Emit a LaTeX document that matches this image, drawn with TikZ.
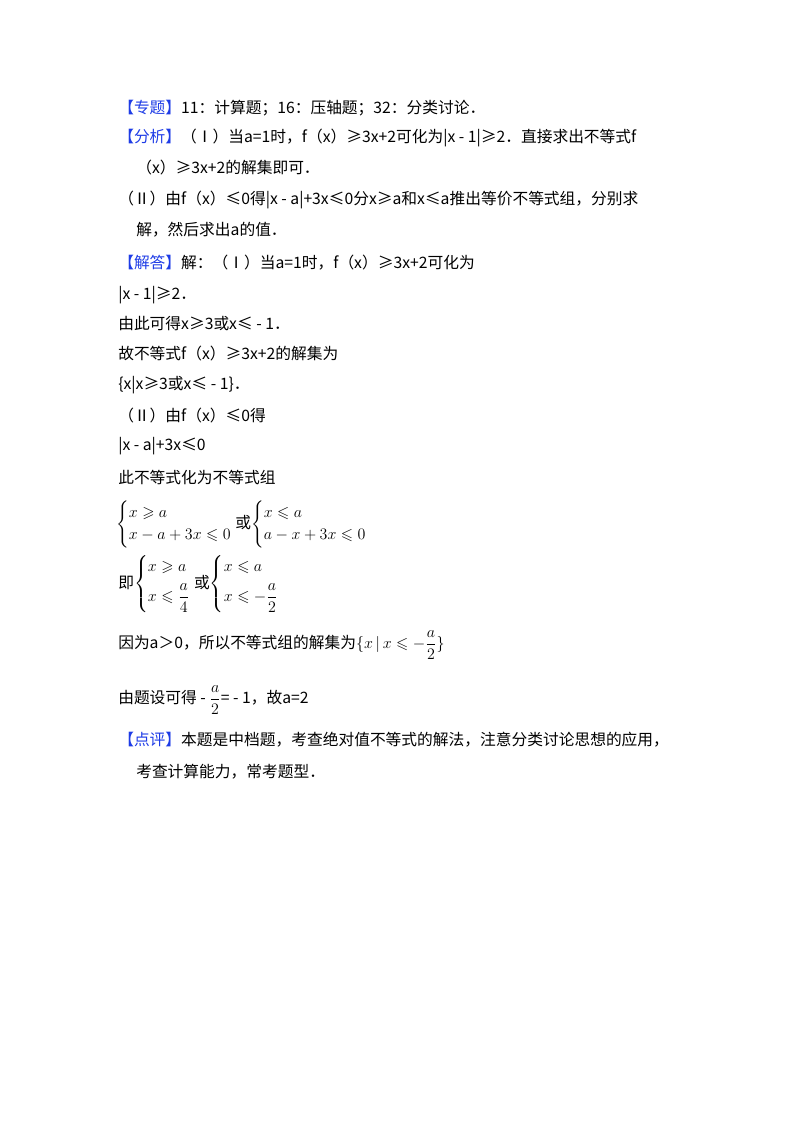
\documentclass[tikz,border=0pt]{standalone}
\usepackage{amsmath,amssymb}
\usepackage{fontspec}
\setmainfont{Noto Sans CJK SC}
\definecolor{hd}{RGB}{30,60,230}
\begin{document}
\begin{tikzpicture}[x=0.75pt,y=-0.75pt,
  every node/.style={anchor=west,inner sep=0pt,font=\fontsize{11.8}{14}\selectfont}]
\useasboundingbox (0,0) rectangle (800,1132);
\node (l1) at (118,108) {\textcolor{hd}{【专题】}11：计算题；16：压轴题；32：分类讨论．};
\node (l2) at (118,138) {\textcolor{hd}{【分析】}（Ⅰ）当a=1时，f（x）≥3x+2可化为|x - 1|≥2．直接求出不等式f};
\node (l3) at (136,168) {（x）≥3x+2的解集即可．};
\node (l4) at (118,200) {（Ⅱ）由f（x）≤0得|x - a|+3x≤0分x≥a和x≤a推出等价不等式组，分别求};
\node (l5) at (136,230) {解，然后求出a的值．};
\node (l6) at (118,263) {\textcolor{hd}{【解答】}解：（Ⅰ）当a=1时，f（x）≥3x+2可化为};
\node (l7) at (118,295) {|x - 1|≥2．};
\node (l8) at (118,324) {由此可得x≥3或x≤ - 1．};
\node (l9) at (118,354) {故不等式f（x）≥3x+2的解集为};
\node (l10) at (118,385) {\{x|x≥3或x≤ - 1\}．};
\node (l11) at (118,416) {（Ⅱ）由f（x）≤0得};
\node (l12) at (118,446) {|x - a|+3x≤0};
\node (l13) at (118,477) {此不等式化为不等式组};
\node (s1) at (116,524) {$\begin{cases}x\geqslant a\\ x-a+3x\leqslant 0\end{cases}$\kern-0.8em或$\begin{cases}x\leqslant a\\ a-x+3x\leqslant 0\end{cases}$};
\node (s2) at (118,584) {即$\begin{cases}x\geqslant a\\[4pt] x\leqslant \dfrac{a}{4}\end{cases}$\kern-0.8em或$\begin{cases}x\leqslant a\\[4pt] x\leqslant -\dfrac{a}{2}\end{cases}$};
\node (l14) at (118,645) {因为a＞0，所以不等式组的解集为$\{x\,|\,x\leqslant -\dfrac{a}{2}\}$};
\node (l15) at (118,700) {由题设可得 - $\dfrac{a}{2}$= - 1，故a=2};
\node (l16) at (118,740) {\textcolor{hd}{【点评】}本题是中档题，考查绝对值不等式的解法，注意分类讨论思想的应用，};
\node (l17) at (136,772) {考查计算能力，常考题型．};
\end{tikzpicture}
\end{document}
